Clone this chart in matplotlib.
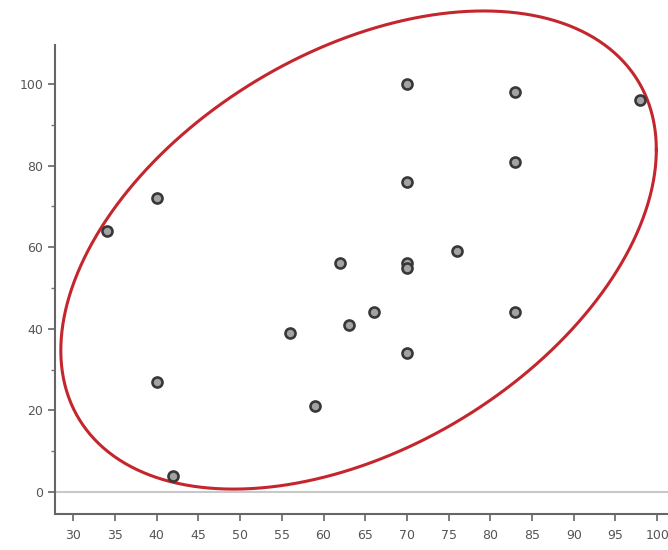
import numpy as np
import matplotlib
matplotlib.use("Agg")
import matplotlib.pyplot as plt
from matplotlib.ticker import MultipleLocator

# observations
x_vals = [34, 40, 40, 42, 56, 59, 62, 63, 66, 70, 70, 70, 70, 70, 76, 83, 83, 83, 98]
y_vals = [64, 72, 27, 4, 39, 21, 56, 41, 44, 100, 76, 56, 55, 34, 59, 98, 81, 44, 96]

# ellipse: centre, half-extents along x and y, and phase shift between them
ell_cx, ell_cy = 64.2, 59.3
ell_ax, ell_ay = 35.7, 58.6
ell_cos = 0.42

fig = plt.figure(figsize=(6.68, 5.5), dpi=100)
ax = fig.add_axes([0.0823, 0.0655, 0.9177, 0.853])

ax.axhline(0, color="#c8c8c8", lw=1.5, zorder=1)

ax.scatter(x_vals, y_vals, s=52, facecolor="#a3a3a3", edgecolor="#383838",
           linewidth=1.9, zorder=3)

t = np.linspace(0, 2 * np.pi, 400)
d = np.arccos(ell_cos)
ex = ell_cx + ell_ax * np.cos(t)
ey = ell_cy + ell_ay * np.cos(t - d)
ax.plot(ex, ey, color="#c4262e", lw=2.2, zorder=2, clip_on=False)

ax.set_xlim(27.8, 101.3)
ax.set_ylim(-5.4, 109.6)
ax.set_xticks(np.arange(30, 105, 5))
ax.set_yticks(np.arange(0, 101, 20))
ax.yaxis.set_minor_locator(MultipleLocator(10))

for side in ("top", "right"):
    ax.spines[side].set_visible(False)
for side in ("left", "bottom"):
    ax.spines[side].set_color("#666666")
    ax.spines[side].set_linewidth(1.5)

ax.tick_params(axis="both", which="major", length=5, width=1.2,
               color="#666666", labelcolor="#555555", labelsize=9)
ax.tick_params(axis="y", which="minor", length=3, width=1.0, color="#777777")
ax.tick_params(axis="x", pad=6)

fig.savefig("out.png", dpi=100)
